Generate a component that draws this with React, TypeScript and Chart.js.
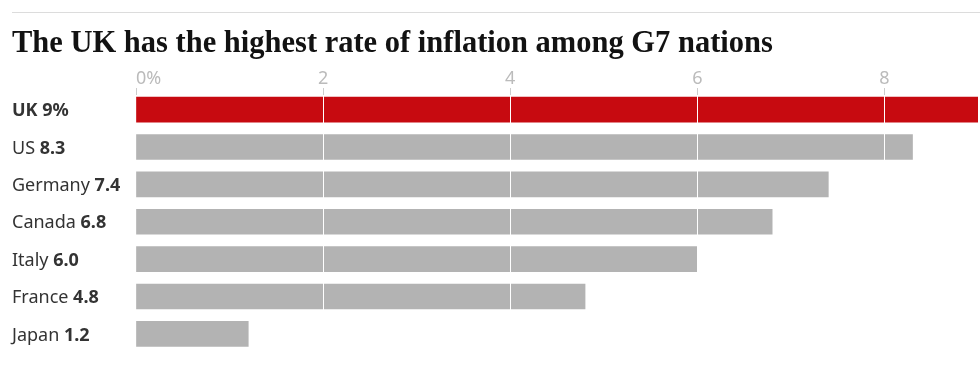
import React, { useEffect, useRef } from 'react';
import { Chart, registerables } from 'chart.js';

Chart.register(...registerables);

const TITLE = 'The UK has the highest rate of inflation among G7 nations';
const countries = ['UK', 'US', 'Germany', 'Canada', 'Italy', 'France', 'Japan'];
const inflation = [9, 8.3, 7.4, 6.8, 6.0, 4.8, 1.2];
const valueLabels = ['9%', '8.3', '7.4', '6.8', '6.0', '4.8', '1.2'];
const xTicks = [0, 2, 4, 6, 8, 9];
const xTickLabels = ['0%', '2', '4', '6', '8', ''];
const HIGHLIGHT = 'UK';

const RED = '#c70a10';
const GREY = '#b3b3b3';
const SANS = '"Noto Sans", "Open Sans", sans-serif';

const decor = {
  id: 'decor',
  beforeDraw(chart: any) {
    const ctx = chart.ctx;
    ctx.save();
    ctx.fillStyle = '#ffffff';
    ctx.fillRect(0, 0, chart.width, chart.height);
    ctx.strokeStyle = '#dcdcdc';
    ctx.lineWidth = 1;
    ctx.beginPath();
    ctx.moveTo(12, 12.5);
    ctx.lineTo(chart.width, 12.5);
    ctx.stroke();
    ctx.font = 'bold 30.5px "Liberation Serif", serif';
    ctx.fillStyle = '#121212';
    ctx.textBaseline = 'alphabetic';
    ctx.textAlign = 'left';
    ctx.fillText(TITLE, 12, 52);

    const ys = chart.scales.y;
    countries.forEach((c, i) => {
      const y = ys.getPixelForValue(i) + 1.5;
      const hl = c === HIGHLIGHT;
      ctx.textBaseline = 'middle';
      ctx.fillStyle = '#333333';
      ctx.font = `${hl ? 'bold ' : ''}18px ${SANS}`;
      const name = c + ' ';
      ctx.fillText(name, 12, y);
      const w = ctx.measureText(name).width;
      ctx.font = `bold 18px ${SANS}`;
      ctx.fillText(valueLabels[i], 12 + w, y);
    });
    ctx.restore();
  },
};

export default function App() {
  const ref = useRef<HTMLCanvasElement | null>(null);

  useEffect(() => {
    document.body.style.margin = '0';
    document.body.style.overflow = 'hidden';
    const canvas = ref.current;
    if (!canvas) return;
    const chart = new Chart(canvas, {
      type: 'bar',
      data: {
        datasets: [
          {
            data: inflation.map((v, i) => ({ x: v, y: i })),
            backgroundColor: countries.map((c) => (c === HIGHLIGHT ? RED : GREY)),
            borderWidth: 0,
            barThickness: 25,
          },
        ],
      },
      options: {
        indexAxis: 'y',
        responsive: false,
        animation: false,
        devicePixelRatio: 1,
        events: [],
        layout: { padding: { top: 67, right: 2, bottom: 17, left: 0 } },
        plugins: {
          legend: { display: false },
          tooltip: { enabled: false },
          title: { display: false },
        },
        scales: {
          x: {
            type: 'linear',
            position: 'top',
            min: 0,
            max: 9,
            z: 1,
            afterBuildTicks: (s: any) => {
              s.ticks = xTicks.map((v) => ({ value: v }));
            },
            afterFit: (s: any) => {
              s.height = 28;
            },
            border: { display: false },
            grid: {
              z: 1,
              color: (ctx: any) =>
                ctx.tick && (ctx.tick.value === 0 || ctx.tick.value === 9) ? 'rgba(0,0,0,0)' : '#ffffff',
              tickColor: (ctx: any) =>
                ctx.tick && ctx.tick.value === 9 ? 'rgba(0,0,0,0)' : '#cccccc',
              tickLength: 7,
              lineWidth: 1,
            },
            ticks: {
              autoSkip: false,
              maxRotation: 0,
              minRotation: 0,
              align: 'inner',
              padding: 0,
              color: '#bbbbbb',
              font: { family: SANS, size: 18, lineHeight: 1 },
              callback: (v: any) => {
                const k = xTicks.indexOf(Number(v));
                return k >= 0 ? xTickLabels[k] : '';
              },
            },
          },
          y: {
            type: 'linear',
            reverse: true,
            offset: false,
            min: -0.39,
            max: 6.51,
            afterFit: (s: any) => {
              s.width = 136;
            },
            grid: { display: false },
            border: { display: false },
            ticks: { display: false },
          },
        },
      } as any,
      plugins: [decor],
    });
    const fonts: any = (document as any).fonts;
    if (fonts && fonts.ready) fonts.ready.then(() => chart.update());
    return () => chart.destroy();
  }, []);

  return <canvas ref={ref} width={980} height={370} style={{ display: 'block' }} />;
}
